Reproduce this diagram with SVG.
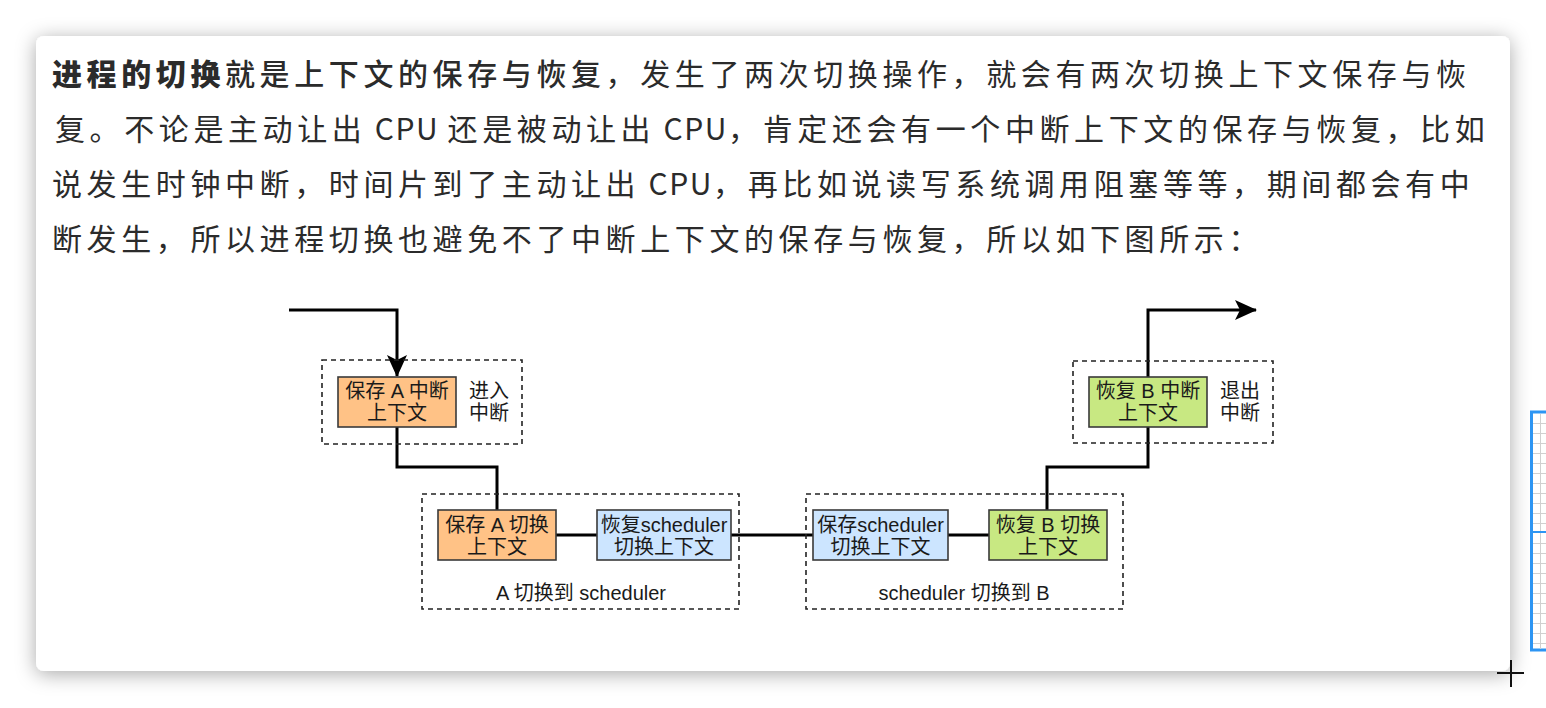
<svg xmlns="http://www.w3.org/2000/svg" width="1546" height="708" viewBox="0 0 1546 708">
  <style>
    .para { font-family: "Noto Sans CJK SC", "Liberation Sans", sans-serif; font-size: 30px; fill: #2b2b2b; letter-spacing: 4.6px; }
    .lat { letter-spacing: 1.6px; }
    .b1 { font-weight: 900; }
    .b2 { font-weight: 500; }
    .lbl { font-family: "Liberation Sans", "Noto Sans CJK SC", sans-serif; font-size: 20px; fill: #1a1a1a; text-anchor: middle; }
    .dash { fill: none; stroke: #222; stroke-width: 1.6; stroke-dasharray: 5 4; }
    .box { stroke: #3a3a3a; stroke-width: 1.6; }
    .org { fill: #ffc286; }
    .blu { fill: #cce5ff; }
    .grn { fill: #c8e882; }
    .wire { fill: none; stroke: #000; stroke-width: 3; }
  </style>
  <defs>
    <filter id="shadow" x="-5%" y="-10%" width="110%" height="125%">
      <feDropShadow dx="0" dy="3" stdDeviation="10" flood-color="#000" flood-opacity="0.34"/>
    </filter>
    <marker id="arrow" markerUnits="userSpaceOnUse" viewBox="0 0 22 20" refX="21" refY="10" markerWidth="22" markerHeight="20" orient="auto">
      <path d="M0,0 L22,10 L0,20 L5,10 Z" fill="#000"/>
    </marker>
  </defs>

  <rect x="0" y="0" width="1546" height="708" fill="#ffffff"/>
  <rect id="card" x="36" y="36" width="1474" height="635" rx="8" fill="#ffffff" filter="url(#shadow)"/>

  <!-- right-edge widget -->
  <g id="side-widget">
    <rect x="1531.5" y="412" width="20" height="238" fill="#ffffff" stroke="#2d95f3" stroke-width="3"/>
    <g stroke="#d0d0d0" stroke-width="1">
      <line x1="1540.5" y1="414" x2="1540.5" y2="649"/>
      <line x1="1533" y1="423.5" x2="1546" y2="423.5"/>
      <line x1="1533" y1="433.5" x2="1546" y2="433.5"/>
      <line x1="1533" y1="443.5" x2="1546" y2="443.5"/>
      <line x1="1533" y1="453.5" x2="1546" y2="453.5"/>
      <line x1="1533" y1="463.5" x2="1546" y2="463.5"/>
      <line x1="1533" y1="473.5" x2="1546" y2="473.5"/>
      <line x1="1533" y1="483.5" x2="1546" y2="483.5"/>
      <line x1="1533" y1="493.5" x2="1546" y2="493.5"/>
      <line x1="1533" y1="503.5" x2="1546" y2="503.5"/>
      <line x1="1533" y1="513.5" x2="1546" y2="513.5"/>
      <line x1="1533" y1="523.5" x2="1546" y2="523.5"/>
      <line x1="1533" y1="543.5" x2="1546" y2="543.5"/>
      <line x1="1533" y1="553.5" x2="1546" y2="553.5"/>
      <line x1="1533" y1="563.5" x2="1546" y2="563.5"/>
      <line x1="1533" y1="573.5" x2="1546" y2="573.5"/>
      <line x1="1533" y1="583.5" x2="1546" y2="583.5"/>
      <line x1="1533" y1="593.5" x2="1546" y2="593.5"/>
      <line x1="1533" y1="603.5" x2="1546" y2="603.5"/>
      <line x1="1533" y1="613.5" x2="1546" y2="613.5"/>
      <line x1="1533" y1="623.5" x2="1546" y2="623.5"/>
      <line x1="1533" y1="633.5" x2="1546" y2="633.5"/>
      <line x1="1533" y1="643.5" x2="1546" y2="643.5"/>
    </g>
    <line x1="1533" y1="532" x2="1546" y2="532" stroke="#2d95f3" stroke-width="2"/>
  </g>

  <!-- cursor -->
  <g id="cursor" stroke="#111" stroke-width="2">
    <line x1="1497" y1="673" x2="1524" y2="673"/>
    <line x1="1511" y1="660" x2="1511" y2="687"/>
  </g>

  <!-- paragraph -->
  <g id="paragraph">
    <text class="para" x="52" y="85"><tspan class="b1">进程的切换</tspan><tspan class="b2">就是上下文的保存与恢复</tspan>，发生了两次切换操作，就会有两次切换上下文保存与恢</text>
    <text class="para" x="55" y="140">复。不论是主动让出<tspan class="lat"> CPU </tspan>还是被动让出<tspan class="lat"> CPU</tspan>，肯定还会有一个中断上下文的保存与恢复，比如</text>
    <text class="para" x="52" y="195">说发生时钟中断，时间片到了主动让出<tspan class="lat"> CPU</tspan>，再比如说读写系统调用阻塞等等，期间都会有中</text>
    <text class="para" x="52" y="250">断发生，所以进程切换也避免不了中断上下文的保存与恢复，所以如下图所示：</text>
  </g>

  <!-- connectors -->
  <g id="connectors">
    <path class="wire" d="M289,310 H397 V376" marker-end="url(#arrow)"/>
    <path class="wire" d="M397,427 V467 H497 V510"/>
    <path class="wire" d="M556,535 H597"/>
    <path class="wire" d="M731,535 H813"/>
    <path class="wire" d="M948,535 H989"/>
    <path class="wire" d="M1047,510 V467 H1148 V427"/>
    <path class="wire" d="M1148,377 V310 H1256" marker-end="url(#arrow)"/>
  </g>

  <!-- groups (dashed) -->
  <g id="group-enter-irq">
    <rect class="dash" x="322" y="360" width="200" height="84"/>
    <text class="lbl" x="489" y="398">进入</text>
    <text class="lbl" x="489" y="420">中断</text>
  </g>
  <g id="group-a-to-scheduler">
    <rect class="dash" x="422" y="494" width="317" height="115"/>
    <text class="lbl" x="581" y="600">A 切换到 scheduler</text>
  </g>
  <g id="group-scheduler-to-b">
    <rect class="dash" x="806" y="494" width="317" height="115"/>
    <text class="lbl" x="964" y="600">scheduler 切换到 B</text>
  </g>
  <g id="group-exit-irq">
    <rect class="dash" x="1073" y="361" width="200" height="82"/>
    <text class="lbl" x="1240" y="398">退出</text>
    <text class="lbl" x="1240" y="420">中断</text>
  </g>

  <!-- nodes -->
  <g id="node-save-a-irq">
    <rect class="box org" x="338" y="377" width="118" height="50"/>
    <text class="lbl" x="397" y="398">保存 A 中断</text>
    <text class="lbl" x="397" y="420">上下文</text>
  </g>
  <g id="node-save-a-switch">
    <rect class="box org" x="438" y="510" width="118" height="50"/>
    <text class="lbl" x="497" y="532">保存 A 切换</text>
    <text class="lbl" x="497" y="554">上下文</text>
  </g>
  <g id="node-restore-scheduler">
    <rect class="box blu" x="597" y="510" width="134" height="50"/>
    <text class="lbl" x="664" y="532">恢复scheduler</text>
    <text class="lbl" x="664" y="554">切换上下文</text>
  </g>
  <g id="node-save-scheduler">
    <rect class="box blu" x="813" y="510" width="135" height="50"/>
    <text class="lbl" x="880.5" y="532">保存scheduler</text>
    <text class="lbl" x="880.5" y="554">切换上下文</text>
  </g>
  <g id="node-restore-b-switch">
    <rect class="box grn" x="989" y="510" width="118" height="50"/>
    <text class="lbl" x="1048" y="532">恢复 B 切换</text>
    <text class="lbl" x="1048" y="554">上下文</text>
  </g>
  <g id="node-restore-b-irq">
    <rect class="box grn" x="1089" y="377" width="118" height="50"/>
    <text class="lbl" x="1148" y="398">恢复 B 中断</text>
    <text class="lbl" x="1148" y="420">上下文</text>
  </g>
</svg>
